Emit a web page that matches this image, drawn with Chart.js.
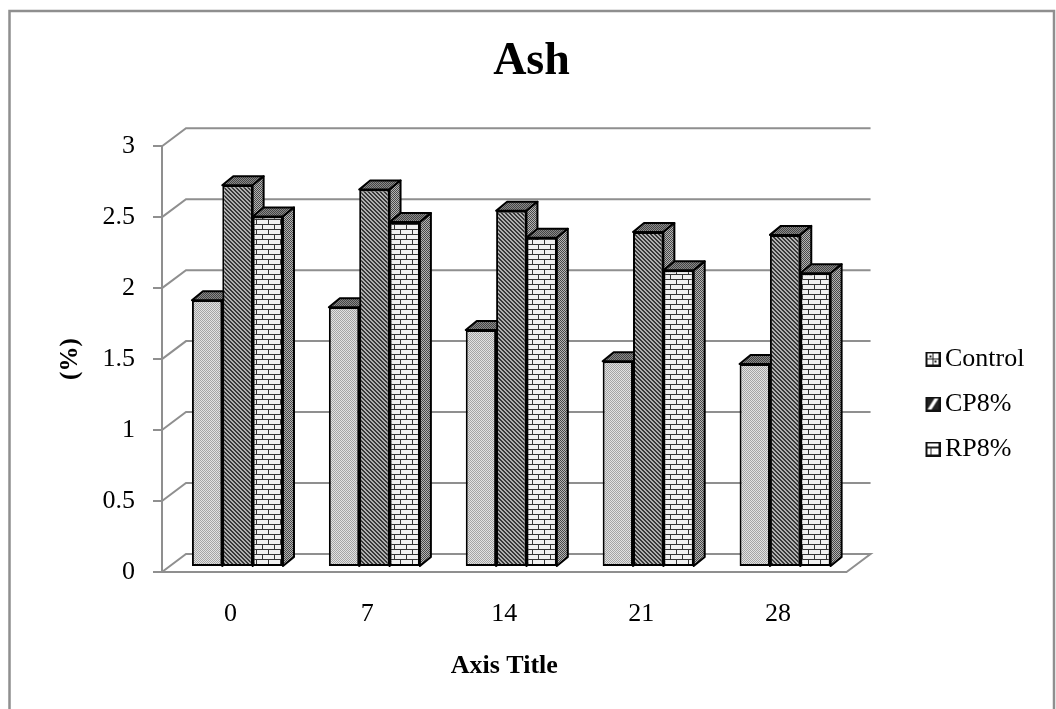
<!DOCTYPE html>
<html>
<head>
<meta charset="utf-8">
<title>Ash</title>
<script src="https://cdn.jsdelivr.net/npm/chart.js@4"></script>
<style>
  html, body { margin: 0; padding: 0; background: #fff; overflow: hidden; }
  #wrap { width: 1056px; height: 709px; }
</style>
</head>
<body>
<div id="wrap"><canvas id="ashChart" width="1056" height="709"></canvas></div>
<script>
// Chart data
const days = ['0', '7', '14', '21', '28'];
const control = [1.88, 1.83, 1.67, 1.45, 1.43];
const cp8 = [2.69, 2.66, 2.51, 2.36, 2.34];
const rp8 = [2.47, 2.43, 2.32, 2.09, 2.07];

const SERIF = '"Liberation Serif", "Times New Roman", serif';
const GRID = '#8f8f8f';
const DEPTH_X = 24, DEPTH_Y = 18;   // back wall offset
const BAR_DX = 11, BAR_DY = 9;      // bar side offset
const SHIFT_X = 7, SHIFT_Y = -5;    // bars stand a bit inside the floor

function makeCanvas(w, h, paint) {
  const c = document.createElement('canvas');
  c.width = w;
  c.height = h;
  paint(c.getContext('2d'));
  return c;
}

// Build a repeating pattern from a little paint callback
function makePattern(w, h, paint) {
  const c = makeCanvas(w, h, paint);
  return c.getContext('2d').createPattern(c, 'repeat');
}

function dots(bg, fg) {
  return makePattern(2, 2, (g) => {
    g.fillStyle = bg; g.fillRect(0, 0, 2, 2);
    g.fillStyle = fg; g.fillRect(0, 0, 1, 1); g.fillRect(1, 1, 1, 1);
  });
}

function stripes(bg, fg) {
  return makePattern(4, 4, (g) => {
    g.fillStyle = bg; g.fillRect(0, 0, 4, 4);
    g.fillStyle = fg;
    for (let i = 0; i < 4; i++) {
      g.fillRect(i, i, 1, 1);
      g.fillRect((i + 1) % 4, i, 1, 1);
    }
  });
}

function bricks() {
  return makePattern(12, 10, (g) => {
    g.fillStyle = '#f0f0f0'; g.fillRect(0, 0, 12, 10);
    g.fillStyle = '#333';
    g.fillRect(0, 4, 12, 1);
    g.fillRect(0, 9, 12, 1);
    g.fillRect(3, 0, 1, 4);
    g.fillRect(9, 5, 1, 4);
  });
}

const controlFill = dots('#e2e2e2', '#a4a4a4');
const cpFill = stripes('#b0b0b0', '#383838');
const rpFill = bricks();
const sideFill = dots('#b4b4b4', '#484848');
const topFill = dots('#8a8a8a', '#444444');

// Legend keys: 4px blank on the left moves the key off the text
function legendKey(paint) {
  return makeCanvas(19, 15, (g) => {
    g.translate(4, 0);
    g.fillStyle = '#111'; g.fillRect(0, 0, 15, 15);
    g.fillStyle = '#fff'; g.fillRect(2, 2, 11, 11);
    paint(g);
  });
}

const keys = [
  legendKey((g) => {
    g.fillStyle = '#222';
    g.fillRect(7, 2, 1, 11); g.fillRect(2, 7, 11, 1);
    g.fillRect(4, 4, 2, 2); g.fillRect(9, 9, 2, 2);
  }),
  legendKey((g) => {
    g.fillStyle = '#222'; g.fillRect(2, 2, 11, 11);
    g.fillStyle = '#fff';
    g.beginPath(); g.moveTo(9, 2); g.lineTo(13, 2); g.lineTo(6, 13); g.lineTo(2, 13); g.fill();
  }),
  legendKey((g) => {
    g.fillStyle = '#222';
    g.fillRect(2, 5, 11, 2); g.fillRect(5, 7, 1, 6);
  })
];

// Frame round the chart, back wall lines, floor and the bar sides
const wallPlugin = {
  id: 'wall',
  beforeDraw(chart) {
    const ctx = chart.ctx;
    ctx.save();
    ctx.strokeStyle = GRID;
    ctx.lineWidth = 2.5;
    ctx.strokeRect(9.5, 11, 1044.5, 720);
    ctx.restore();
  },
  beforeDatasetsDraw(chart) {
    const { ctx, chartArea: area, scales } = chart;
    ctx.save();
    ctx.strokeStyle = GRID;
    ctx.lineWidth = 2;
    scales.y.ticks.forEach((t) => {
      const y = scales.y.getPixelForValue(t.value);
      ctx.beginPath();
      ctx.moveTo(area.left, y);
      ctx.lineTo(area.left + DEPTH_X, y - DEPTH_Y);
      ctx.lineTo(area.right + DEPTH_X, y - DEPTH_Y);
      if (t.value === 0) {
        ctx.lineTo(area.right, y);
      }
      ctx.stroke();
    });
    ctx.restore();

    // top and right faces go first, the fronts of the next bars cover them
    ctx.save();
    ctx.translate(SHIFT_X, SHIFT_Y);
    ctx.strokeStyle = '#000';
    ctx.lineWidth = 2;
    ctx.lineJoin = 'round';
    chart.data.datasets.forEach((ds, i) => {
      chart.getDatasetMeta(i).data.forEach((bar) => {
        const l = bar.x - bar.width / 2;
        const r = bar.x + bar.width / 2;
        ctx.fillStyle = topFill;
        ctx.beginPath();
        ctx.moveTo(l, bar.y);
        ctx.lineTo(l + BAR_DX, bar.y - BAR_DY);
        ctx.lineTo(r + BAR_DX, bar.y - BAR_DY);
        ctx.lineTo(r, bar.y);
        ctx.closePath();
        ctx.fill();
        ctx.stroke();
        ctx.fillStyle = sideFill;
        ctx.beginPath();
        ctx.moveTo(r, bar.y);
        ctx.lineTo(r + BAR_DX, bar.y - BAR_DY);
        ctx.lineTo(r + BAR_DX, bar.base - BAR_DY);
        ctx.lineTo(r, bar.base);
        ctx.closePath();
        ctx.fill();
        ctx.stroke();
      });
    });
    ctx.restore();
    // library bars are moved the same way
    ctx.save();
    ctx.translate(SHIFT_X, SHIFT_Y);
  },
  afterDatasetsDraw(chart) {
    chart.ctx.restore();
  },
  afterLayout(chart) {
    // legend block sits lower and further right than the default place
    const legend = chart.legend;
    const dx = 930 - (legend.left + legend.options.labels.padding);
    legend.left += dx;
    legend.right += dx;
    legend.top += 42;
    legend.bottom += 42;
    // title is centred on the frame, not on the plot
    const tb = chart.titleBlock;
    const shift = 531.5 - (tb.left + tb.right) / 2;
    tb.left += shift;
    tb.right += shift;
  }
};

new Chart(document.getElementById('ashChart'), {
  type: 'bar',
  data: {
    labels: days,
    datasets: [
      { label: 'Control', data: control, backgroundColor: controlFill },
      { label: 'CP8%', data: cp8, backgroundColor: cpFill },
      { label: 'RP8%', data: rp8, backgroundColor: rpFill }
    ]
  },
  options: {
    responsive: false,
    animation: false,
    events: [],
    layout: { padding: { left: 56, right: 86, top: 35, bottom: 20 } },
    datasets: {
      bar: {
        categoryPercentage: 0.665,
        barPercentage: 1,
        borderColor: '#000',
        borderWidth: 2,
        borderSkipped: false
      }
    },
    scales: {
      x: {
        afterFit(scale) { scale.height = 117; },
        grid: { display: false, drawTicks: false },
        border: { color: GRID, width: 2 },
        ticks: { color: '#000', padding: 27, font: { family: SERIF, size: 26 } },
        title: {
          display: true,
          text: 'Axis Title',
          color: '#000',
          padding: { top: 0, bottom: 7 },
          font: { family: SERIF, size: 26, weight: 'bold' }
        }
      },
      y: {
        min: 0,
        max: 3,
        afterFit(scale) { scale.width = 106; },
        grid: { drawOnChartArea: false, color: GRID, lineWidth: 2, tickLength: 9 },
        border: { color: GRID, width: 2 },
        ticks: {
          stepSize: 0.5,
          color: '#000',
          padding: 18,
          font: { family: SERIF, size: 26 },
          callback: (value) => String(value)
        },
        title: {
          display: true,
          text: '(%)',
          color: '#000',
          padding: 0,
          font: { family: SERIF, size: 25, weight: 'bold' }
        }
      }
    },
    plugins: {
      title: {
        display: true,
        text: 'Ash',
        color: '#000',
        padding: { top: 0, bottom: 56 },
        font: { family: SERIF, size: 46, weight: 'bold' }
      },
      legend: {
        position: 'right',
        labels: {
          color: '#000',
          usePointStyle: true,
          boxWidth: 2,
          boxHeight: 15,
          padding: 19,
          font: { family: SERIF, size: 26 },
          generateLabels(chart) {
            return chart.data.datasets.map((ds, i) => ({
              text: ds.label,
              pointStyle: keys[i],
              fontColor: '#000',
              datasetIndex: i
            }));
          }
        }
      },
      tooltip: { enabled: false }
    }
  },
  plugins: [wallPlugin]
});
</script>
</body>
</html>
